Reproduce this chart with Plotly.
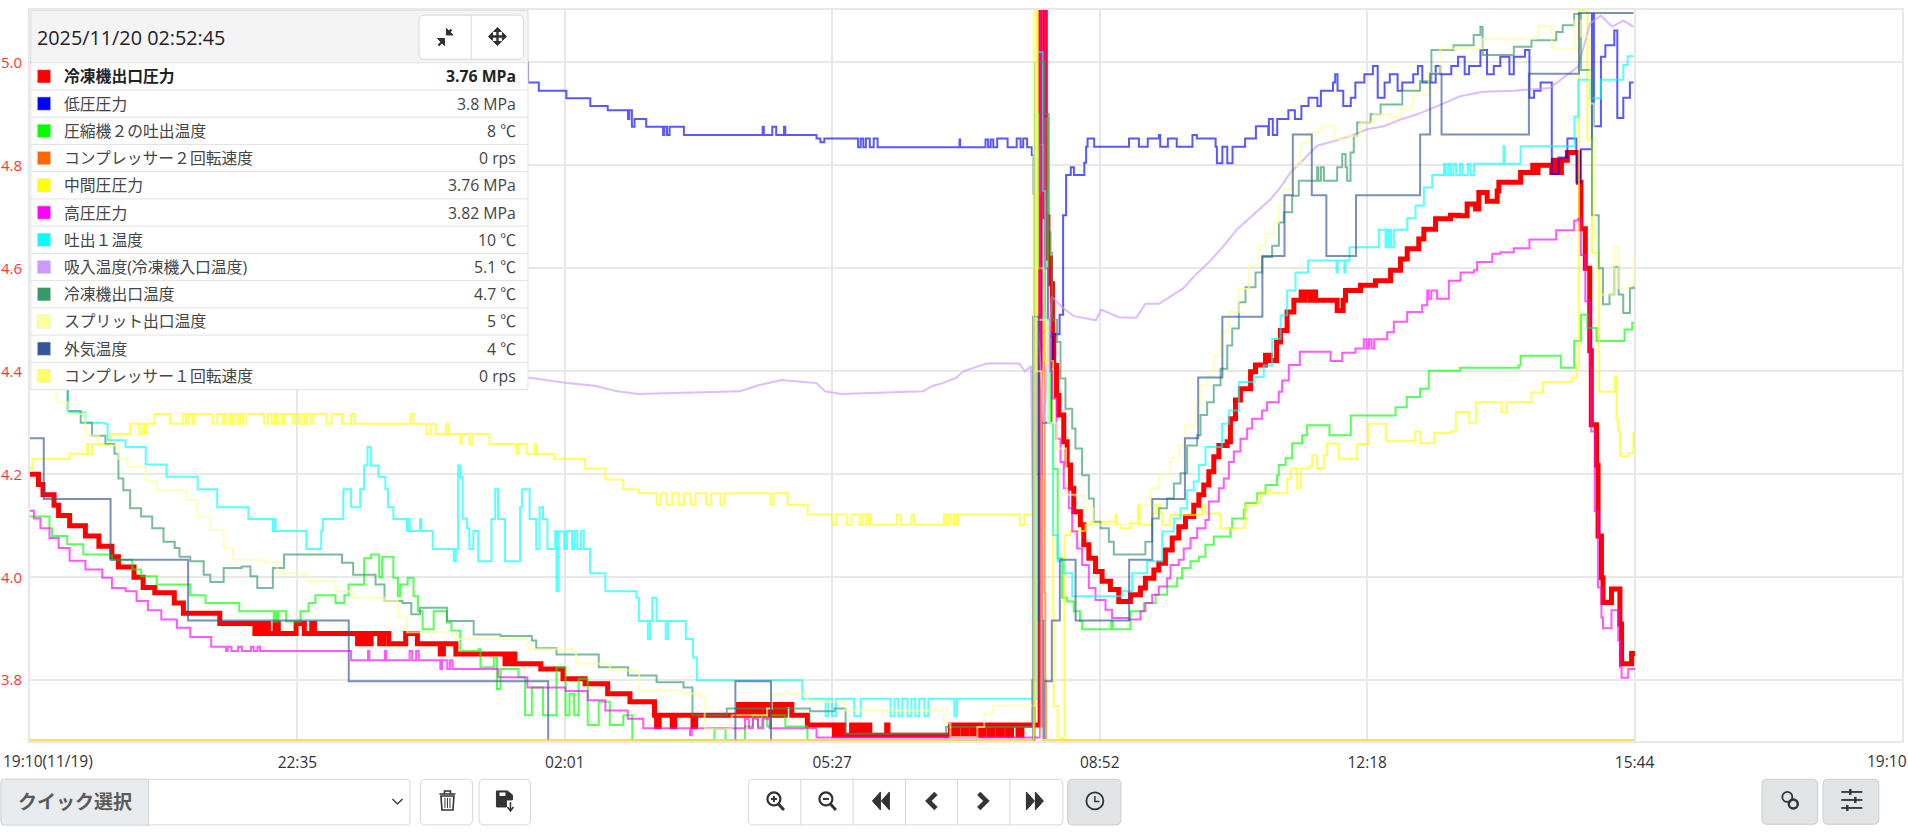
import plotly.graph_objects as go

# ---- readings: (minutes since 19:10, axis value) ----
red = [(0,4.2),(6.5,4.18),(10,4.16),(18.5,4.14),(22,4.12),(30.5,4.1),(42.6,4.08),(53,4.06),(63,4.04),(68,4.02),(80,4.0),(87,3.98),(96,3.97),(111,3.95),(118,3.93),(146,3.91),(173,3.891),(176,3.91),(178,3.891),(180,3.91),(183.4,3.891),(188.5,3.91),(191,3.891),(204.7,3.91),(211,3.891),(216.7,3.91),(218.8,3.891),(252,3.871),(254,3.891),(256,3.871),(258,3.891),(260,3.871),(262.4,3.891),(269,3.871),(272,3.891),(276,3.871),(289,3.891),(298,3.871),(315.6,3.851),(318,3.871),(327.6,3.851),(365.4,3.832),(367,3.851),(369,3.832),(371,3.851),(373,3.832),(392.9,3.822),(410,3.803),(427,3.793),(444.4,3.774),(461.5,3.758),(480.4,3.732),(482,3.71),(484,3.732),(494,3.71),(496,3.732),(510,3.71),(512,3.732),(545,3.753),(548,3.732),(551,3.753),(554,3.732),(557,3.753),(560,3.732),(563,3.753),(566,3.732),(569,3.753),(572,3.732),(575,3.753),(578,3.732),(581,3.753),(586,3.732),(598,3.713),(618.8,3.693),(620,3.713),(622,3.693),(624,3.713),(626,3.693),(632,3.713),(634,3.693),(636,3.713),(638,3.693),(640,3.713),(642,3.693),(644,3.713),(646,3.693),(659,3.713),(660,3.693),(708,3.713),(711,3.693),(714,3.713),(718,3.693),(721,3.713),(725,3.693),(728,3.713),(731,3.693),(734,3.713),(738,3.693),(741,3.713),(745,3.693),(748,3.713),(752,3.693),(755,3.713),(760,3.693),(763,3.713),(770,3.713),(777,5.12),(781,4.7),(783,4.62),(785,4.57),(786.5,4.47),(787.5,4.411),(789.6,4.353),(791.4,4.315),(795.2,4.263),(797.8,4.218),(800.4,4.173),(802.9,4.127),(808,4.102),(810.6,4.063),(814.5,4.037),(819.6,4.011),(824.7,3.992),(831.1,3.976),(837.5,3.953),(846.5,3.966),(854.2,3.979),(858,3.998),(864.5,4.014),(868.3,4.027),(873.4,4.053),(878.6,4.076),(883.7,4.098),(888.8,4.118),(895.2,4.14),(899.1,4.16),(902.9,4.179),(906.8,4.205),(910.6,4.234),(914.5,4.256),(920.9,4.263),(923.4,4.308),(927.3,4.344),(931.1,4.366),(938.9,4.399),(942.7,4.412),(950.4,4.431),(954.2,4.421),(958.9,4.457),(961.9,4.479),(967,4.515),(972.2,4.538),(977.8,4.554),(980,4.538),(981,4.554),(985,4.538),(986,4.554),(988.9,4.538),(1005.5,4.518),(1010.1,4.538),(1011.9,4.557),(1023.5,4.567),(1035,4.576),(1046.6,4.596),(1054.2,4.618),(1059.4,4.638),(1068.3,4.657),(1072.2,4.676),(1081.2,4.696),(1092.7,4.703),(1099.1,4.702),(1105.5,4.725),(1112,4.715),(1114.5,4.747),(1120.9,4.73),(1128.6,4.75),(1129.9,4.767),(1146.6,4.786),(1156,4.8),(1158,4.786),(1160,4.8),(1170.6,4.786),(1172,4.81),(1175,4.786),(1178,4.81),(1182.6,4.825),(1189.5,4.825),(1191.2,4.767),(1193,4.677),(1196.4,4.6),(1199.8,4.44),(1201,4.296),(1205,4.218),(1206.2,4.08),(1208.8,3.999),(1210,3.951),(1214,3.951),(1216.5,3.977),(1221.7,3.977),(1223,3.909),(1224.3,3.832),(1230.7,3.832),(1232,3.852),(1234.6,3.852)]

low_pressure = [(0,5.0),(383,4.961),(391.4,4.945),(412.6,4.93),(431,4.915),(444.4,4.907),(460,4.89),(461,4.907),(463,4.875),(465,4.89),(474,4.875),(487,4.859),(488,4.875),(490,4.859),(492,4.875),(503,4.859),(563.6,4.875),(564.5,4.859),(571,4.875),(574,4.859),(580,4.875),(581,4.859),(605,4.852),(608,4.845),(611,4.852),(615,4.852),(637,4.835),(639,4.852),(641,4.835),(643,4.852),(646,4.835),(649,4.852),(652,4.835),(715,4.85),(715.5,4.835),(735,4.85),(737,4.835),(739,4.85),(741,4.835),(744,4.852),(752,4.835),(759,4.852),(762,4.835),(764,4.852),(767,4.835),(770.6,4.82),(772,4.745),(773.5,4.2),(778,4.3),(786,4.42),(787,4.472),(792,4.51),(794.7,4.703),(797,4.781),(800.6,4.796),(803,4.781),(811,4.805),(812.4,4.836),(813.5,4.852),(818.6,4.836),(845.4,4.852),(853,4.836),(859.8,4.852),(868.4,4.859),(869.4,4.836),(875.3,4.852),(882.1,4.836),(894.2,4.859),(897.6,4.852),(912,4.836),(913,4.804),(917.2,4.836),(921,4.804),(925,4.836),(934.7,4.852),(943,4.876),(952.5,4.859),(953,4.89),(956,4.859),(959.4,4.89),(968,4.907),(973,4.89),(978,4.915),(983.5,4.931),(990.3,4.915),(993,4.945),(1002.3,4.961),(1004,4.977),(1005.8,4.945),(1010.2,4.915),(1016,4.931),(1019.5,4.961),(1026.4,4.977),(1033,4.993),(1036.7,4.931),(1042,4.961),(1046,4.977),(1052,4.945),(1055.6,4.961),(1064,4.977),(1067.6,4.993),(1071,4.961),(1081.3,4.993),(1084.8,4.977),(1093.3,4.993),(1098.5,5.011),(1103.6,4.977),(1107,4.993),(1115.7,5.024),(1120.8,4.977),(1126,4.993),(1131,5.011),(1138,4.977),(1141.4,5.011),(1150,5.024),(1153.4,4.931),(1157,4.945),(1162,4.961),(1169.6,4.961),(1170.6,4.783),(1175.8,4.815),(1182.6,4.852),(1186,4.852),(1189.5,4.767),(1193,4.831),(1201.5,5.094),(1203,4.876),(1208.4,5.011),(1211.8,5.033),(1218.7,5.062),(1221,4.892),(1225.6,4.931),(1230.7,4.961),(1233.5,4.961)]

green = [(0,4.118),(15,4.095),(17,4.08),(28.6,4.064),(41,4.044),(61.5,4.042),(63,4.034),(78.6,4.015),(85.5,4.002),(97.5,3.986),(123.3,3.965),(135,3.95),(161,3.934),(187.5,3.914),(188.5,3.934),(190,3.914),(191,3.934),(197,3.914),(208,3.934),(214.3,3.95),(219.5,3.965),(235,3.95),(241.8,3.965),(245,3.986),(257,4.037),(262.4,4.044),(268.6,4.0),(270.9,4.04),(279.5,3.999),(283,3.963),(284.7,3.986),(290.5,3.999),(295,3.963),(298.4,3.934),(302,3.899),(310.5,3.934),(320.7,3.912),(324.2,3.896),(331,3.857),(344.8,3.86),(346.5,3.825),(356.8,3.844),(359.2,3.783),(362,3.822),(375.7,3.806),(380.8,3.732),(386,3.786),(394.6,3.732),(405,3.825),(412,3.732),(415,3.774),(418.6,3.732),(422,3.803),(429,3.713),(437.5,3.758),(446,3.713),(456.4,3.732),(463.3,3.684),(526,3.684),(526.5,3.706),(535,3.684),(550,3.71),(556,3.732),(560,3.71),(563,3.732),(567,3.71),(570,3.732),(581,3.71),(598,3.684),(772,3.684),(773,4.9),(776,4.6),(781,4.89),(783,4.5),(785,4.3),(787,4.21),(790.5,4.037),(794,3.96),(797.8,3.953),(802.9,3.934),(807.7,3.915),(809.4,3.899),(831.7,3.915),(833,3.899),(840,3.899),(846.5,3.934),(856.8,3.95),(865.8,3.966),(874.7,3.982),(882.4,3.998),(886.3,4.018),(892.7,4.031),(899.1,4.04),(904.2,4.063),(910.6,4.079),(923.4,4.095),(924.7,4.114),(933.7,4.131),(935,4.144),(944,4.163),(950.4,4.179),(959.3,4.198),(960.6,4.218),(965.8,4.231),(970.9,4.26),(978.6,4.276),(982.4,4.295),(999.1,4.295),(999.6,4.276),(1012,4.276),(1016,4.314),(1048.7,4.314),(1050.4,4.33),(1059,4.35),(1069.3,4.366),(1076,4.401),(1100,4.407),(1145,4.411),(1146.6,4.43),(1175.8,4.43),(1177.5,4.407),(1182.6,4.407),(1187.8,4.459),(1193,4.51),(1198,4.484),(1205,4.459),(1225.6,4.459),(1226.6,4.481),(1232.4,4.494),(1234,4.494)]

compressor2 = [(0,3.684),(772.2,3.684),(772.4,4.74),(776.8,4.84),(780,4.76),(780.5,3.97),(781,3.8),(781.5,3.684),(1234,3.684)]

mid_pressure = [(0,4.211),(2,4.23),(30.5,4.24),(44,4.259),(45,4.24),(47.7,4.259),(61.5,4.278),(77,4.298),(84,4.278),(86,4.298),(88,4.278),(90,4.298),(95.8,4.317),(107.8,4.298),(117.4,4.317),(120,4.298),(122,4.317),(125,4.298),(127,4.317),(140.5,4.298),(144,4.317),(148,4.298),(150,4.317),(152,4.298),(154,4.317),(156,4.298),(158,4.317),(160,4.298),(162,4.317),(164,4.298),(166,4.317),(180,4.298),(183,4.317),(186,4.298),(188,4.317),(190,4.298),(192,4.317),(194,4.298),(196,4.317),(202,4.298),(204,4.317),(207,4.298),(209,4.317),(211,4.298),(213,4.317),(216,4.298),(218,4.317),(228,4.298),(232,4.317),(240,4.298),(247,4.317),(250,4.298),(293,4.317),(295,4.298),(305,4.278),(308,4.298),(312,4.278),(320,4.298),(322,4.278),(331,4.259),(332,4.278),(338,4.259),(340,4.278),(353.4,4.259),(374,4.24),(376,4.259),(382,4.24),(388,4.259),(390,4.24),(403,4.23),(425.5,4.23),(427,4.211),(442.6,4.19),(456.4,4.171),(468.4,4.163),(482,4.141),(485,4.163),(490,4.141),(494,4.163),(499,4.141),(503,4.163),(508,4.141),(512,4.163),(520,4.141),(524,4.163),(531,4.141),(534,4.163),(568,4.163),(570,4.141),(572,4.163),(582.8,4.141),(598.2,4.122),(617,4.102),(620,4.122),(628,4.102),(632,4.122),(638,4.102),(640,4.122),(643,4.102),(645,4.122),(647,4.102),(667,4.122),(670,4.102),(678,4.122),(680,4.102),(703,4.122),(705,4.102),(707,4.122),(709,4.102),(711,4.122),(713.3,4.102),(714,4.122),(761.3,4.102),(764.8,4.122),(771.6,4.122),(773.5,5.12),(775,4.6),(780,4.42),(787,3.93),(787.4,3.75),(790.5,3.687),(795.7,4.082),(800,4.09),(811.9,4.102),(815.8,4.108),(835,4.121),(836,4.102),(838.8,4.095),(846,4.105),(852.2,4.14),(853.7,4.102),(863.2,4.124),(865.8,4.14),(869.6,4.124),(870.9,4.102),(877.3,4.121),(901.6,4.14),(904.2,4.124),(914.5,4.121),(915.8,4.095),(933.7,4.105),(935,4.14),(944,4.147),(946.5,4.166),(952.9,4.169),(954.2,4.163),(967,4.192),(970.1,4.211),(974.7,4.173),(977.3,4.211),(983.7,4.215),(986.3,4.237),(990.1,4.211),(995.2,4.237),(997.8,4.26),(1003.4,4.259),(1006.9,4.23),(1015.5,4.23),(1020.6,4.259),(1029.2,4.298),(1041.2,4.298),(1043,4.264),(1054,4.264),(1065.6,4.283),(1069.5,4.26),(1076,4.26),(1080,4.28),(1092.7,4.283),(1096.8,4.321),(1104,4.321),(1107,4.3),(1112.2,4.34),(1130,4.34),(1132,4.32),(1136,4.34),(1155,4.359),(1163.7,4.379),(1186,4.388),(1190,4.41),(1191.5,5.12),(1193,5.1),(1198,4.85),(1201.5,4.63),(1207,4.36),(1219,4.39),(1220.4,4.305),(1221.7,4.283),(1223,4.235),(1229.4,4.241),(1233.3,4.28),(1234,4.28)]

high_pressure = [(0,4.129),(3,4.114),(8,4.095),(15,4.076),(22,4.057),(30.5,4.032),(42.6,4.015),(55.6,3.999),(63,3.979),(73.5,3.973),(82,3.954),(90.7,3.936),(101,3.918),(113,3.902),(123.3,3.884),(139.4,3.865),(150.8,3.857),(152,3.865),(155,3.857),(160,3.865),(163,3.857),(170,3.865),(172,3.857),(175,3.865),(177,3.857),(245,3.857),(247,3.839),(260,3.857),(261,3.839),(273,3.857),(274,3.839),(292,3.857),(294,3.839),(297,3.857),(299,3.839),(313,3.839),(315.6,3.822),(317,3.839),(321,3.822),(323,3.839),(325,3.822),(358.5,3.822),(360.2,3.806),(379,3.806),(382.6,3.786),(406.6,3.786),(412,3.779),(425.5,3.779),(429,3.761),(442.6,3.741),(459.8,3.725),(471.8,3.707),(506,3.707),(507.7,3.693),(509,3.707),(550,3.725),(553,3.707),(556,3.725),(560,3.707),(564,3.725),(569,3.707),(598,3.707),(605,3.689),(770,3.689),(777,5.12),(781,4.6),(783,4.5),(785,4.4),(786.3,4.347),(789.6,4.269),(792.7,4.224),(795.2,4.173),(799.1,4.134),(801.7,4.089),(805.5,4.056),(809.3,4.024),(814.5,3.979),(819.6,3.956),(827.3,3.937),(832.4,3.921),(845.2,3.918),(854.2,3.934),(858,3.95),(863.2,3.966),(868.3,3.982),(874.7,3.998),(877.3,4.024),(883.7,4.034),(887.5,4.056),(892.7,4.076),(897.8,4.095),(904.2,4.111),(906.8,4.147),(914.5,4.173),(918.3,4.192),(922.2,4.224),(926,4.244),(931.1,4.269),(936.3,4.289),(940.1,4.308),(947.8,4.324),(951.6,4.34),(960.6,4.36),(963.2,4.382),(968.3,4.412),(976.8,4.438),(999.1,4.438),(1000.4,4.42),(1008.1,4.42),(1009.4,4.436),(1019.6,4.444),(1026,4.462),(1028,4.444),(1030,4.462),(1032,4.444),(1034,4.462),(1036.3,4.462),(1044,4.476),(1049.1,4.496),(1059.4,4.515),(1070.9,4.528),(1074.8,4.557),(1076,4.541),(1078,4.557),(1082.4,4.541),(1091.4,4.576),(1100.4,4.592),(1110.7,4.596),(1113.2,4.612),(1124.8,4.628),(1131.2,4.631),(1141.4,4.639),(1153.4,4.656),(1174,4.674),(1187.8,4.693),(1191,4.696),(1193,4.626),(1196.4,4.536),(1199.8,4.407),(1201,4.283),(1203.6,4.128),(1206.2,3.98),(1208.8,3.922),(1210,3.901),(1214,3.901),(1216.5,3.936),(1220.4,3.936),(1221.7,3.877),(1223,3.825),(1224.3,3.805),(1229,3.805),(1229.4,3.822),(1234.6,3.822)]

discharge1 = [(0,4.6),(29,4.32),(42.6,4.3),(57,4.298),(59.7,4.266),(73.5,4.253),(89,4.219),(105,4.195),(129,4.171),(144,4.136),(168,4.113),(186.8,4.09),(188,4.113),(189,4.09),(212.6,4.055),(224,4.09),(225.3,4.113),(241,4.171),(247,4.136),(254,4.171),(257,4.217),(259.6,4.253),(262,4.217),(268,4.195),(273.4,4.171),(275.4,4.136),(279.5,4.113),(290,4.09),(291,4.113),(292,4.09),(300,4.113),(301,4.09),(309.8,4.055),(326,4.031),(327.5,4.055),(329.3,4.217),(331,4.195),(332.8,4.114),(336.2,4.095),(338,4.055),(341,4.09),(344.8,4.031),(355,4.113),(357.8,4.171),(360,4.113),(365.4,4.031),(377,4.136),(378.4,4.171),(384.3,4.113),(389.4,4.055),(392,4.136),(394.6,4.113),(398,4.055),(404,4.09),(405,3.973),(406.6,4.089),(411,4.055),(413,4.09),(417,4.055),(419,4.09),(421,4.055),(424,4.09),(426,4.055),(430.8,4.008),(442.6,3.973),(460,3.973),(466.6,3.96),(468.4,3.915),(475.3,3.88),(477,3.915),(478.7,3.96),(482,3.915),(489,3.88),(490.7,3.915),(502.7,3.915),(504.5,3.88),(510,3.844),(513,3.8),(593,3.8),(594,3.764),(612,3.73),(614,3.764),(617,3.73),(620,3.764),(634,3.73),(639,3.764),(662,3.73),(665,3.764),(668,3.73),(671,3.764),(675,3.73),(678,3.764),(681,3.73),(684,3.764),(688,3.73),(691,3.764),(711,3.73),(713,3.764),(770,3.764),(774.7,5.02),(779,4.75),(781,4.5),(783,4.3),(787,4.082),(790.5,4.031),(795.2,4.008),(801.7,3.963),(838.8,3.963),(840.1,3.973),(847.8,4.008),(859.3,4.031),(870.9,4.089),(879.9,4.114),(885,4.134),(890.1,4.169),(895.2,4.186),(899.1,4.218),(904.2,4.253),(917,4.298),(922.2,4.324),(929.9,4.379),(941.4,4.389),(949,4.411),(955.5,4.463),(962,4.509),(967,4.557),(973.5,4.592),(983,4.615),(1005,4.592),(1006,4.615),(1011,4.592),(1012,4.615),(1015,4.641),(1037.6,4.675),(1042.7,4.641),(1044,4.675),(1045,4.641),(1046,4.675),(1047,4.641),(1049.1,4.675),(1059.4,4.697),(1065.8,4.722),(1072.2,4.757),(1078.6,4.781),(1087.6,4.803),(1089,4.781),(1091,4.803),(1093,4.781),(1095,4.803),(1097,4.781),(1100,4.803),(1102,4.781),(1106,4.803),(1108,4.781),(1110.7,4.803),(1133,4.803),(1133.5,4.837),(1134.5,4.803),(1146.6,4.837),(1186,4.837),(1188,4.895),(1191,4.966),(1196.4,4.966),(1200,4.93),(1206.7,4.93),(1208.4,4.966),(1223,4.966),(1225.6,4.995),(1229,5.012),(1233.5,5.012)]

suction = [(0,4.92),(200,4.6),(383,4.388),(413.5,4.377),(434,4.372),(452,4.361),(468,4.356),(546,4.361),(559,4.372),(568,4.377),(578,4.383),(605,4.377),(611.6,4.361),(624,4.356),(687,4.361),(694.6,4.372),(702,4.377),(712.3,4.387),(718,4.4),(728.5,4.409),(736,4.415),(761,4.415),(765.3,4.4),(770,4.41),(772,4.0),(775,4.5),(780,4.3),(786,4.545),(794.6,4.523),(803,4.507),(820,4.499),(824,4.52),(837.5,4.505),(851,4.504),(858,4.531),(868.4,4.531),(877,4.545),(887,4.561),(897.6,4.59),(900.4,4.596),(908.1,4.615),(918.3,4.644),(928.6,4.676),(938.9,4.699),(946.6,4.718),(954.2,4.734),(961.9,4.757),(969.6,4.786),(977.3,4.805),(985,4.825),(990.1,4.838),(1003,4.847),(1015.8,4.857),(1028.6,4.87),(1041.4,4.876),(1054.2,4.889),(1067,4.899),(1079.9,4.912),(1088.8,4.922),(1100,4.934),(1117.4,4.943),(1141.4,4.945),(1169,4.95),(1179,4.969),(1191,4.992),(1200,5.075),(1208.4,5.091),(1217,5.069),(1225.6,5.081),(1233.5,5.069)]

outlet_temp = [(0,4.6),(29,4.323),(39,4.3),(47.7,4.275),(58,4.259),(65,4.24),(68,4.192),(71.8,4.169),(77,4.134),(85.5,4.118),(94,4.095),(102.7,4.069),(111.3,4.057),(115,4.04),(123.3,4.031),(133.6,4.005),(138.7,3.991),(149,4.018),(162.8,4.021),(169.6,4.002),(174.8,3.979),(186.8,4.018),(195.4,4.044),(229.7,4.044),(240,4.028),(248.6,4.005),(265.8,3.986),(272.7,3.954),(286.4,3.95),(293.3,3.928),(300,3.941),(320.7,3.915),(341.3,3.889),(362,3.886),(386,3.877),(389.4,3.862),(405,3.85),(437.5,3.825),(460,3.809),(482,3.796),(502.7,3.786),(509.6,3.732),(536,3.745),(600,3.74),(618.8,3.745),(627.4,3.696),(703,3.696),(704.7,3.709),(768,3.709),(771,3.8),(773,5.0),(780,4.9),(783.7,4.67),(785,4.63),(786.3,4.5),(790,4.457),(792.7,4.386),(796.5,4.327),(801.7,4.289),(804.2,4.25),(809.3,4.198),(814.5,4.153),(818.3,4.108),(823.4,4.095),(829.9,4.069),(833.7,4.044),(841.4,4.044),(854.2,4.044),(858,4.069),(863.2,4.114),(868.3,4.134),(874.7,4.153),(879.9,4.182),(885,4.202),(890.1,4.256),(897.8,4.276),(900.4,4.315),(905.5,4.34),(910.6,4.373),(915.8,4.405),(921,4.45),(924.8,4.483),(929.9,4.534),(935,4.563),(942.7,4.592),(947.8,4.622),(955.5,4.644),(960.7,4.689),(964.5,4.709),(970.9,4.741),(976,4.77),(990.1,4.796),(991,4.77),(993,4.796),(995.3,4.77),(1005.5,4.796),(1009.4,4.822),(1012,4.796),(1013.2,4.77),(1015.8,4.825),(1018.3,4.857),(1020.9,4.883),(1031.2,4.899),(1038.9,4.918),(1055.6,4.945),(1069.3,4.963),(1078,5.024),(1095,5.033),(1110.5,5.053),(1115.7,5.069),(1117.4,5.014),(1141.4,5.03),(1155,5.043),(1174,5.059),(1179,5.072),(1187.8,5.094),(1191.5,5.094),(1193,4.985),(1201.5,4.703),(1206.7,4.6),(1210,4.53),(1215,4.549),(1218.7,4.603),(1222,4.549),(1225.6,4.513),(1230.7,4.561),(1233.5,4.565)]

split_temp = [(0,4.6),(20,4.34),(29,4.317),(42.6,4.275),(53,4.256),(68,4.23),(75,4.214),(89,4.188),(97.5,4.169),(120,4.15),(128.4,4.118),(138.7,4.092),(149,4.057),(156,4.034),(180,4.03),(190.2,4.008),(210.8,4.004),(214.3,3.992),(235,3.973),(248.6,3.96),(272.7,3.954),(283,3.922),(290,3.893),(320.7,3.893),(327.6,3.88),(382.6,3.873),(384,3.86),(418.6,3.854),(420,3.832),(446,3.819),(468.4,3.78),(502.7,3.774),(515.8,3.77),(519,3.706),(539.8,3.732),(567,3.745),(570.7,3.774),(593,3.774),(598,3.758),(627.4,3.741),(694.4,3.741),(703,3.716),(708,3.69),(728.7,3.709),(734,3.735),(740.7,3.751),(771,3.75),(773.4,5.12),(775,4.5),(783,4.3),(790,4.25),(797,4.16),(804,4.159),(811,4.134),(818,4.102),(835,4.102),(854.2,4.14),(861.9,4.173),(868.3,4.198),(877.3,4.231),(883.7,4.256),(888.8,4.295),(896.5,4.334),(900.4,4.373),(905.5,4.392),(910.6,4.431),(915.8,4.476),(922.2,4.515),(929.9,4.56),(937.6,4.605),(945.3,4.644),(950.4,4.667),(956.8,4.689),(960.7,4.722),(964.5,4.754),(970.9,4.799),(977.3,4.844),(985,4.864),(994,4.876),(1003,4.851),(1013.2,4.857),(1023.5,4.883),(1033.7,4.899),(1046.6,4.893),(1054.2,4.909),(1061.9,4.918),(1064,4.937),(1076,4.979),(1084.8,5.027),(1117.4,5.046),(1158.6,5.049),(1160,5.07),(1170.6,5.027),(1184.3,5.027),(1187.8,5.081),(1193,5.05),(1199.8,4.92),(1203,4.664),(1205,4.587),(1208.4,4.549),(1218.7,4.642),(1222,4.561),(1229,4.568),(1233.5,4.622)]

outdoor = [(0,4.27),(10.6,4.152),(62,4.034),(121.6,3.916),(245.2,3.798),(398.6,3.68),(542.6,3.798),(570,3.68),(771.5,4.506),(776,3.916),(779.5,3.68),(780,3.798),(786,3.916),(792.2,4.034),(804.3,3.916),(845.5,4.034),(863.3,4.152),(888.4,4.27),(898.6,4.388),(917.2,4.506),(948,4.624),(965,4.742),(971.4,4.86),(986,4.742),(997.2,4.624),(1020,4.742),(1069.3,4.86),(1077,4.978),(1085.8,4.86),(1153,4.978),(1191.5,5.096),(1233.5,5.096)]

compressor1 = [(0,3.684),(771,3.684),(772,5.12),(774,4.4),(778,3.684),(1234,3.684)]

series_names = ["冷凍機出口圧力","低圧圧力","圧縮機２の吐出温度","コンプレッサー２回転速度","中間圧圧力","高圧圧力","吐出１温度","吸入温度(冷凍機入口温度)","冷凍機出口温度","スプリット出口温度","外気温度","コンプレッサー１回転速度"]
series_values = [red,low_pressure,green,compressor2,mid_pressure,high_pressure,discharge1,suction,outlet_temp,split_temp,outdoor,compressor1]
readouts = ["3.76 MPa","3.8 MPa","8 ℃","0 rps","3.76 MPa","3.82 MPa","10 ℃","5.1 ℃","4.7 ℃","5 ℃","4 ℃","0 rps"]
colors = ["#ff0000","#0000ff","#00ff00","#ff6600","#ffff00","#ff00ff","#00ffff","#cc99ff","#339966","#ffff99","#335599","#ffff66"]

x_ticks = [0,205.7,411.4,617.1,822.9,1028.6,1234.3,1440]
x_labels = ["","22:35","02:01","05:27","08:52","12:18","15:44",""]
y_ticks = [3.8,4.0,4.2,4.4,4.6,4.8,5.0]
y_labels = ["3.8","4.0","4.2","4.4","4.6","4.8","5.0"]
timestamp = "2025/11/20 02:52:45"

W, H = 1908, 835
L, R, T, B = 29.5, 1901.7, 9.5, 741.0
FONT = "Open Sans, Noto Sans CJK JP, sans-serif"
def px(x): return (x-L)/(R-L)
def py(y): return 1-(y-T)/(B-T)

fig = go.Figure()
for name, data, col, in zip(series_names, series_values, colors):
    t, v = zip(*data)
    is_red = col=="#ff0000"
    fig.add_trace(go.Scatter(x=t, y=v, mode="lines", name=name, opacity=1 if is_red else 0.65,
                             line=dict(color=col, width=5 if is_red else 2, shape="linear" if col=="#cc99ff" else "hv")))

shapes, ann = [], []
def path(cmds, fill=None, line=None, lw=1):
    s = ""
    for c in cmds:
        if isinstance(c, str): s += c+" "
        else: s += f"{px(c[0]):.6f},{py(c[1]):.6f} "
    shapes.append(dict(type="path", xref="paper", yref="paper", path=s.strip(), fillcolor=fill or "rgba(0,0,0,0)",
                       line=dict(color=line or "rgba(0,0,0,0)", width=lw), layer="above"))
def rect(x0,y0,x1,y1,fill=None,line=None,lw=1):
    shapes.append(dict(type="rect", xref="paper", yref="paper", x0=px(x0), x1=px(x1), y0=py(y0), y1=py(y1),
                       fillcolor=fill or "rgba(0,0,0,0)", line=dict(color=line or "rgba(0,0,0,0)", width=lw), layer="above"))
def rrect(x0,y0,x1,y1,r=4,fill=None,line="#cfd2d5",lw=1):
    path(["M",(x0+r,y0),"L",(x1-r,y0),"Q",(x1,y0),(x1,y0+r),"L",(x1,y1-r),"Q",(x1,y1),(x1-r,y1),"L",(x0+r,y1),"Q",(x0,y1),(x0,y1-r),"L",(x0,y0+r),"Q",(x0,y0),(x0+r,y0),"Z"],fill,line,lw)
def circ(cx,cy,r,fill=None,line=None,lw=1.5):
    shapes.append(dict(type="circle", xref="paper", yref="paper", x0=px(cx-r), x1=px(cx+r), y0=py(cy+r), y1=py(cy-r),
                       fillcolor=fill or "rgba(0,0,0,0)", line=dict(color=line or "rgba(0,0,0,0)", width=lw), layer="above"))
def text(x,y,s,size=15.5,color="#333333",anchor="left",bold=False):
    ann.append(dict(xref="paper", yref="paper", x=px(x), y=py(y), text=f"<b>{s}</b>" if bold else s, showarrow=False,
                    xanchor=anchor, yanchor="middle", xshift=0, font=dict(family=FONT,size=size,color=color), borderpad=0, borderwidth=0))

DK = "#333333"
# --- readout table
rect(30.4,10,527.5,389.5,"#ffffff","#e2e2e2")
rect(30.4,10,527.5,62.3,"#f4f4f4","#e2e2e2")
rrect(418.6,14.7,523,58.7,5,"#ffffff","#d6d8da")
path(["M",(470.7,14.7),"L",(470.7,58.7)],None,"#d6d8da",1)
text(36.5,36.7,timestamp,size=19.8,color="#222222")
row_top = 62.3; row_h = 27.25
for i,(n,val,col) in enumerate(zip(series_names,readouts,colors)):
    y0 = row_top+i*row_h; yc = y0+row_h/2
    if i: path(["M",(30.4,y0),"L",(527.5,y0)],None,"#e2e2e2",1)
    rect(36.8,yc-6.7,50.2,yc+6.7,col,"#e6e6e6",0.6)
    text(63.5,yc,n,size=15.8,color="#222222" if i==0 else "#444444",bold=(i==0))
    text(515.5,yc,val,size=15.8,color="#222222" if i==0 else "#444444",anchor="right",bold=(i==0))
# compress icon
path(["M",(438,45),"L",(443,40)],None,DK,2.4)
path(["M",(437,38),"L",(444,38),"L",(444,45),"Z"],DK,DK,1)
path(["M",(446,34),"L",(451,29)],None,DK,2.4)
path(["M",(446,28),"L",(446,34.5),"L",(452.5,34.5),"Z"],DK,DK,1)
# move icon
path(["M",(497,36),"L",(497,28),"M",(497,36),"L",(497,44),"M",(489,36),"L",(505,36)],None,DK,2.4)
path(["M",(497,27),"L",(493,31),"L",(501,31),"Z"],DK,DK,1); path(["M",(497,45),"L",(493,41),"L",(501,41),"Z"],DK,DK,1)
path(["M",(488,36),"L",(492,32),"L",(492,40),"Z"],DK,DK,1); path(["M",(506,36),"L",(502,32),"L",(502,40),"Z"],DK,DK,1)

# --- end tick labels
text(2,761.5,"19:10(11/19)",size=15.5,color="#333333")
text(1907,761.5,"19:10",size=15.5,color="#333333",anchor="right")

# --- bottom left controls
rrect(0.5,779.3,409.4,825,3,"#ffffff","#d4d6d8")
path(["M",(3,779.3),"L",(148,779.3),"L",(148,825),"L",(3,825),"Q",(0.5,825),(0.5,822),"L",(0.5,782),"Q",(0.5,779.3),(3,779.3),"Z"],"#e9ecef","#d4d6d8")
text(74.5,802,"クイック選択",size=19,color="#5a5a5a",anchor="center",bold=True)
path(["M",(392,799),"L",(397,804),"L",(402,799)],None,"#444444",1.6)
rrect(420,779.3,472,825,5,"#ffffff","#d4d6d8")
rrect(478.6,779.3,530,825,5,"#ffffff","#d4d6d8")
# trash
path(["M",(439,794),"L",(455,794),"M",(444,794),"L",(444,791),"L",(450,791),"L",(450,794)],None,DK,1.6)
path(["M",(440.5,796),"L",(453.5,796),"L",(452.5,810),"L",(441.5,810),"Z"],None,DK,1.6)
path(["M",(444.5,798),"L",(444.5,808),"M",(447,798),"L",(447,808),"M",(449.5,798),"L",(449.5,808)],None,DK,1)
# save
path(["M",(496,791),"L",(507,791),"L",(512,795),"L",(512,800),"L",(506,800),"L",(506,807),"L",(496,807),"Z"],DK,DK,1)
path(["M",(510,802),"L",(510,810),"M",(507,807),"L",(510,811),"L",(513,807)],None,DK,1.5)
rect(499,792.5,505,796,"#ffffff",None)

# --- centre controls
rrect(748,779.3,1062.5,825,5,"#ffffff","#d4d6d8")
for sx in [800.4,852.7,905,957,1009.4]:
    path(["M",(sx,779.3),"L",(sx,825)],None,"#d4d6d8",1)
for cx,sign in [(774.5,"+"),(826.5,"-")]:
    circ(cx-1,799,6.5,None,DK,2.2)
    path(["M",(cx+3.5,804),"L",(cx+9,810)],None,DK,3)
    path(["M",(cx-4,799),"L",(cx+2,799)],None,DK,2)
    if sign=="+": path(["M",(cx-1,796),"L",(cx-1,802)],None,DK,2)
path(["M",(880,792),"L",(872,801),"L",(880,810),"Z"],DK,DK,1); path(["M",(889,792),"L",(881,801),"L",(889,810),"Z"],DK,DK,1)
path(["M",(934,792),"L",(925,801),"L",(934,810),"L",(937,807),"L",(931,801),"L",(937,795),"Z"],DK,DK,0.5)
path(["M",(980,792),"L",(989,801),"L",(980,810),"L",(977,807),"L",(983,801),"L",(977,795),"Z"],DK,DK,0.5)
path(["M",(1026,792),"L",(1034,801),"L",(1026,810),"Z"],DK,DK,1); path(["M",(1035,792),"L",(1043,801),"L",(1035,810),"Z"],DK,DK,1)
rrect(1067.4,779.3,1120.5,825,5,"#e2e3e5","#c9cbcd")
circ(1094.5,801,8.5,None,DK,1.8)
path(["M",(1094.5,796),"L",(1094.5,801.5),"L",(1099,801.5)],None,DK,1.5)

# --- right controls
rrect(1761.7,779.3,1817.4,824.3,5,"#e2e3e5","#c9cbcd")
rrect(1822.8,779.3,1878.5,824.3,5,"#e2e3e5","#c9cbcd")
circ(1787,797,5,None,DK,1.8); circ(1793,804,4.5,None,DK,2.4)
for yy,xx in [(792,1850),(800,1855),(808,1847)]:
    path(["M",(1841,yy),"L",(1862,yy)],None,DK,1.8)
    path(["M",(xx,yy-3),"L",(xx,yy+3)],None,DK,2.4)

fig.update_layout(
    width=W, height=H, margin=dict(l=L, r=W-R, t=T, b=H-B, pad=0, autoexpand=False),
    paper_bgcolor="#ffffff", plot_bgcolor="#ffffff", showlegend=False,
    font=dict(family=FONT, size=15.5, color="#333333"),
    shapes=shapes, annotations=ann,
    xaxis=dict(range=[0,1440], tickmode="array", tickvals=x_ticks, ticktext=x_labels, showgrid=True, gridcolor="#e8e8e8", gridwidth=2,
               zeroline=False, showline=True, linecolor="#e8e8e8", linewidth=2, mirror=True, ticks="outside", ticklen=6, tickcolor="rgba(0,0,0,0)",
               tickfont=dict(family=FONT,size=15.5,color="#333333"), tickangle=0),
    yaxis=dict(range=[3.682,5.1016], tickmode="array", tickvals=y_ticks, ticktext=y_labels, showgrid=True, gridcolor="#e8e8e8", gridwidth=2,
               zeroline=False, showline=True, linecolor="#e8e8e8", linewidth=2, mirror=True, ticks="outside", ticklen=3, tickcolor="rgba(0,0,0,0)",
               tickfont=dict(family=FONT,size=15,color="#ff3333")),
)
fig.write_html("out.html", config=dict(displayModeBar=False),
               post_script="document.body.style.margin='0';document.body.style.overflow='hidden';")
